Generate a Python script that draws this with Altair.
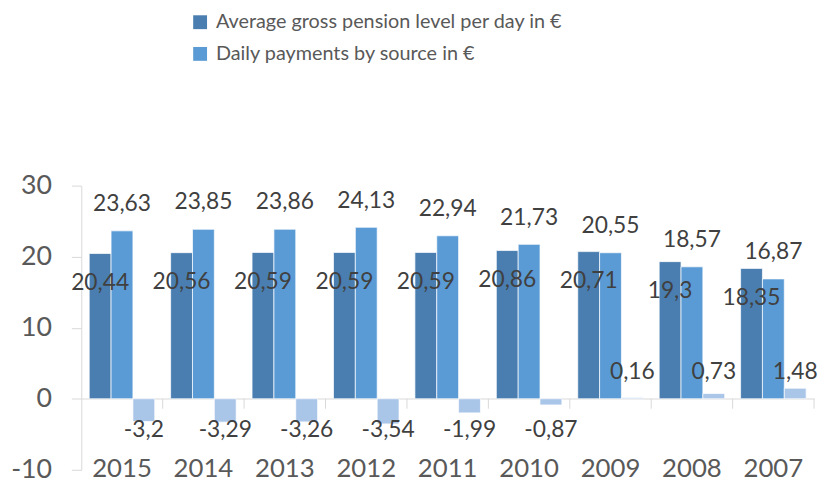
import altair as alt
import pandas as pd

years = ["2015", "2014", "2013", "2012", "2011", "2010", "2009", "2008", "2007"]
series = ["Average gross pension level per day  in €", "Daily payments by source in €", "Difference"]
avg_pension = [20.44, 20.56, 20.59, 20.59, 20.59, 20.86, 20.71, 19.3, 18.35]
daily_payments = [23.63, 23.85, 23.86, 24.13, 22.94, 21.73, 20.55, 18.57, 16.87]
difference = [-3.2, -3.29, -3.26, -3.54, -1.99, -0.87, 0.16, 0.73, 1.48]
colors = ["#4A7EB0", "#5B9BD5", "#A9C5E8"]

rows = []
for i, y in enumerate(years):
    for s, vals in zip(series, [avg_pension, daily_payments, difference]):
        v = vals[i]
        rows.append({"year": y, "series": s, "value": v,
                     "label": f"{v:g}".replace(".", ",")})
df = pd.DataFrame(rows)
years_df = pd.DataFrame({"year": years})

FONT = "Lato"
x_enc = alt.X("year:N", sort=years, title=None,
              scale=alt.Scale(paddingInner=0.195, paddingOuter=0.0975),
              axis=alt.Axis(orient="bottom", offset=-72, ticks=False,
                            domainColor="#D9D9D9",
                            labelFontSize=26, labelColor="#595959", labelFont=FONT,
                            labelPadding=71, labelBaseline="middle", labelAngle=0))
xo_enc = alt.XOffset("series:N", scale=alt.Scale(domain=series))
y_enc = alt.Y("value:Q", title=None,
              scale=alt.Scale(domain=[-10, 30], nice=False),
              axis=alt.Axis(values=[-10, 0, 10, 20, 30], grid=False, tickSize=10,
                            tickColor="#D9D9D9", domainColor="#D9D9D9",
                            labelExpr="'' + datum.value",
                            labelFontSize=27, labelColor="#595959", labelFont=FONT,
                            labelPadding=20))

base = alt.Chart(df)

bars = base.mark_bar(stroke="white", strokeWidth=0.7).encode(
    x=x_enc, xOffset=xo_enc, y=y_enc,
    color=alt.Color("series:N", scale=alt.Scale(domain=series, range=colors),
                    legend=alt.Legend(values=series[:2], title=None, orient="none",
                                      legendX=110, legendY=-175, symbolType="square",
                                      symbolSize=196, symbolStrokeWidth=0,
                                      labelFontSize=20, labelColor="#595959",
                                      labelFont=FONT, labelOffset=6, rowPadding=12,
                                      labelLimit=0, padding=0)),
)

# category boundary ticks below the zero line
ticks = alt.Chart(years_df).mark_rule(color="#D9D9D9", strokeWidth=1, xOffset=8).encode(
    x=alt.X("year:N", sort=years, bandPosition=1),
    y=alt.datum(0), y2=alt.datum(-1.4))

txt_common = dict(fontSize=23, font=FONT, color="#404040", baseline="middle", align="center")

lab_dark = base.transform_filter(alt.datum.series == series[0]).mark_text(dy=30, **txt_common).encode(
    x=alt.X("year:N", sort=years), xOffset=xo_enc, y="value:Q", text="label:N")
lab_mid = base.transform_filter(alt.datum.series == series[1]).mark_text(dy=-27, **txt_common).encode(
    x=alt.X("year:N", sort=years), xOffset=xo_enc, y="value:Q", text="label:N")
lab_light = base.transform_filter(alt.datum.series == series[2]).transform_calculate(
    ly="datum.value < 0 ? -4.46 : 3.77").mark_text(**txt_common).encode(
    x=alt.X("year:N", sort=years), xOffset=xo_enc, y="ly:Q", text="label:N")

chart = alt.layer(bars, ticks, lab_dark, lab_mid, lab_light).properties(
    width=740, height=287,
    autosize=alt.AutoSizeParams(type="none"),
    padding={"left": 74, "top": 177, "right": 8, "bottom": 14},
).configure_view(stroke=None)

chart.save("out.html", embed_options={"renderer": "svg", "actions": False})
